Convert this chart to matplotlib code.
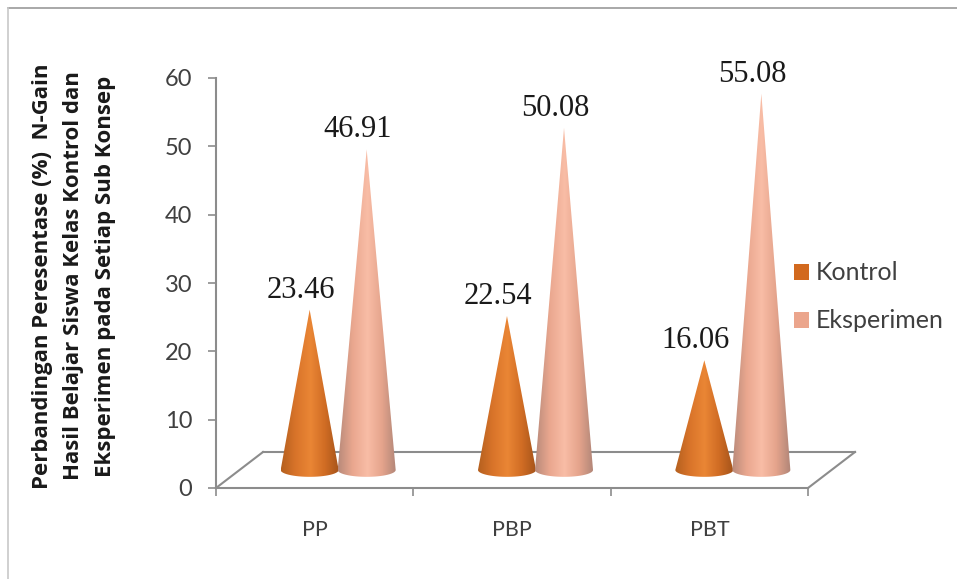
import numpy as np
import matplotlib
matplotlib.use("Agg")
import matplotlib.pyplot as plt
from matplotlib.colors import LinearSegmentedColormap
from matplotlib.lines import Line2D
from matplotlib.patches import Patch, PathPatch
from matplotlib.path import Path
from matplotlib.transforms import ScaledTranslation

categories = ["PP", "PBP", "PBT"]
series_names = ["Kontrol", "Eksperimen"]
kontrol = [23.46, 22.54, 16.06]
eksperimen = [46.91, 50.08, 55.08]
y_ticks = [0, 10, 20, 30, 40, 50, 60]
ylabel = ("Perbandingan Peresentase (%)  N-Gain\n"
          "Hasil Belajar Siswa Kelas Kontrol dan\n"
          "Eksperimen pada Setiap Sub Konsep")

W, H = 957, 579
GREY = "#8c8c8c"
TEXT = "#404040"
cmap_k = LinearSegmentedColormap.from_list("k", ["#b5601f", "#d9742a", "#ea8635", "#d06c24", "#a3531a"])
cmap_e = LinearSegmentedColormap.from_list("e", ["#b98a7a", "#eaa78f", "#f9bda6", "#e5a48c", "#b08577"])


def px_offset(fig, dx, dy):
    return ScaledTranslation(dx / fig.dpi, dy / fig.dpi, fig.dpi_scale_trans)


def draw_cone(ax, x, value, half_w, cmap, trans):
    # cone outline: tip, then round the front of the base ellipse
    ry = 1.0
    t = np.linspace(np.pi, 2 * np.pi, 30)
    xs = np.r_[x, x + half_w * np.cos(t), x]
    ys = np.r_[value, ry * np.sin(t), value]
    patch = PathPatch(Path(np.c_[xs, ys]), facecolor="none", edgecolor="none", transform=trans)
    ax.add_patch(patch)
    grad = np.linspace(0, 1, 128).reshape(1, -1)
    im = ax.imshow(grad, cmap=cmap, aspect="auto", extent=(x - half_w, x + half_w, -ry, value),
                   transform=trans, zorder=3)
    im.set_clip_path(patch)


fig = plt.figure(figsize=(W / 100, H / 100), dpi=100)
ax = fig.add_axes([216 / W, (H - 488) / H, 592 / W, 410 / H])

# floor of the 3d chart
xmin, xmax = -0.5, 2.5
floor = ax.transData + px_offset(fig, 47, 36)
ax.plot([xmin, xmax], [0, 0], color=GREY, lw=1.5, transform=floor, clip_on=False)
fig.add_artist(Line2D([216 / W, 263 / W], [(H - 488) / H, (H - 452) / H], transform=fig.transFigure, color=GREY, lw=1.5))
fig.add_artist(Line2D([808 / W, 855 / W], [(H - 488) / H, (H - 452) / H], transform=fig.transFigure, color=GREY, lw=1.5))

cone_trans = ax.transData + px_offset(fig, 23.5, 18)
half_w = 0.147
shift = 0.1445
for i in range(len(categories)):
    for vals, sign, cmap in ((kontrol, -1, cmap_k), (eksperimen, 1, cmap_e)):
        x = i + sign * shift
        draw_cone(ax, x, vals[i], half_w, cmap, cone_trans)
        ax.annotate(f"{vals[i]:.2f}", xy=(x, vals[i]), xycoords=cone_trans,
                    xytext=(-9, 12), textcoords="offset pixels", ha="center", va="baseline",
                    fontsize=22, family="Liberation Serif", color="#1a1a1a", zorder=5,
                    annotation_clip=False)

ax.set_xlim(xmin, xmax)
ax.set_ylim(0, 60)
ax.patch.set_visible(False)
for side in ("top", "right"):
    ax.spines[side].set_visible(False)
for side in ("left", "bottom"):
    ax.spines[side].set_color(GREY)
    ax.spines[side].set_linewidth(1.5)

ax.set_yticks(y_ticks)
ax.set_xticks([-0.5, 0.5, 1.5, 2.5])
ax.set_xticklabels([])
ax.set_xticks([0, 1, 2], minor=True)
ax.set_xticklabels(categories, minor=True, fontsize=15.5, family="Lato", color=TEXT)
ax.tick_params(axis="x", which="major", length=6, width=1.2, color=GREY)
ax.tick_params(axis="x", which="minor", length=0, pad=23)
ax.tick_params(axis="y", length=6, width=1.2, color=GREY, pad=11, labelcolor=TEXT)
for lab in ax.get_yticklabels():
    lab.set_fontsize(17)
    lab.set_family("Lato")

fig.text(74 / W, 1 - 276 / H, ylabel, rotation=90, ha="center", va="center", multialignment="center",
         fontsize=16, fontweight="bold", family="Open Sans", color="#1a1a1a", linespacing=1.65)

handles = [Patch(facecolor="#d2691e", edgecolor="none"), Patch(facecolor="#eba58c", edgecolor="none")]
leg = fig.legend(handles, series_names, loc="center left", bbox_to_anchor=(771 / W, 1 - 297 / H),
                 frameon=False, prop={"family": "Lato", "size": 18}, labelcolor=TEXT,
                 handlelength=0.6, handleheight=0.6, handletextpad=0.3, labelspacing=1.0)

# outer chart border, only top and left show in the crop
fig.add_artist(Line2D([8 / W, 1], [1 - 8 / H, 1 - 8 / H], transform=fig.transFigure, color="#999999", lw=1.2))
fig.add_artist(Line2D([8 / W, 8 / W], [0, 1 - 8 / H], transform=fig.transFigure, color="#c8c8c8", lw=1.2))

fig.savefig("out.png", dpi=100)
